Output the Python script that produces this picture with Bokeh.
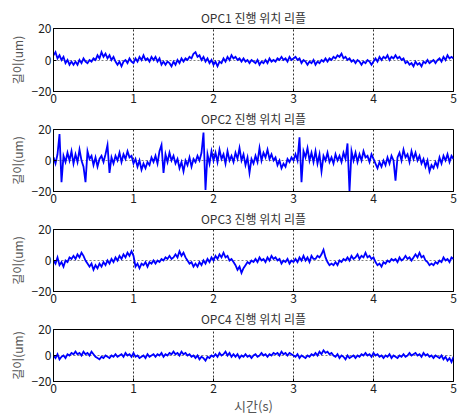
from bokeh.plotting import figure
from bokeh.layouts import column
from bokeh.models import FixedTicker, Range1d
from bokeh.embed import file_html
from bokeh.resources import INLINE

DT = 0.025
titles = ["OPC1 진행 위치 리플", "OPC2 진행 위치 리플", "OPC3 진행 위치 리플", "OPC4 진행 위치 리플"]
y_label = "길이(um)"
x_label = "시간(s)"
x_ticks = [0, 1, 2, 3, 4, 5]
y_ticks = [-20, 0, 20]

opc1 = [3,5,1,3,0,2,-2,0,-3,-1,-3,
        -1,-3,0,-2,1,-1,-2,0,-1,1,
        0,3,1,5,2,4,1,3,0,2,
        -1,-3,-1,-4,-1,0,-2,1,-1,-2,
        1,-1,2,0,3,0,1,-1,2,0,
        2,-1,1,-3,-1,-3,-1,-2,-4,-1,
        -3,0,-2,1,-1,1,0,2,1,4,
        5,2,3,0,2,-1,1,-2,0,-3,
        -1,-4,-1,-2,1,-1,2,0,3,1,
        2,0,1,-1,1,-1,0,-2,0,-1,
        -2,0,-3,-1,-2,0,-2,1,-1,0,
        -1,1,0,2,0,1,-1,2,0,1,
        2,0,1,-2,0,-1,-3,-1,-2,0,
        -3,-1,-2,0,-1,1,-1,1,0,2,
        1,3,2,4,1,2,0,1,-1,0,
        -2,0,-1,-3,-1,-2,0,-1,-3,-1,
        1,-1,2,0,2,1,3,0,2,1,
        3,1,2,0,1,-2,-1,-3,-2,-4,
        -1,-3,-2,-4,-1,-2,0,-2,-1,0,
        -2,0,1,-1,2,0,3,1,2,1]

opc2 = [2,-2,4,17,-14,3,-1,5,0,6,-2,
        4,-1,7,0,-4,-14,6,1,3,-3,
        2,-4,1,3,-1,4,10,-8,2,-2,
        3,0,5,-1,4,1,6,2,3,-2,
        1,-4,0,-6,-2,-5,-1,-3,2,-1,
        3,-2,6,10,-8,4,-1,5,0,3,
        -2,1,-5,-1,-7,0,-3,2,-4,1,
        -1,3,0,5,18,-19,4,-2,6,0,
        5,-1,7,1,4,-2,6,0,3,-1,
        5,1,8,0,4,-3,2,-8,1,-2,
        3,-1,8,0,5,2,7,1,4,0,
        2,-3,0,-5,-2,-4,1,-1,2,0,
        4,0,15,-14,6,2,8,0,5,-1,
        6,-2,4,-7,3,0,5,-1,2,-2,
        4,0,3,-1,5,1,11,-20,6,0,
        5,-1,4,0,6,2,3,-1,4,1,
        -2,-5,-1,-4,0,-3,2,-2,3,0,
        -13,2,5,0,7,2,4,-1,6,1,
        5,0,3,-2,1,-4,0,-7,-3,-5,
        -1,-4,2,-2,3,0,4,-1,3,1]

opc3 = [0,-2,2,-3,-1,-4,0,-1,2,1,3,
        1,4,2,5,3,0,-2,-4,-2,-6,
        -3,-5,-2,-4,-1,-3,0,-2,1,-1,
        2,0,3,1,4,2,5,3,6,3,
        -4,-2,-5,-2,-3,-1,-4,-1,-2,0,
        -2,0,-1,1,0,2,1,3,1,2,
        4,2,6,3,5,2,0,-2,-1,-4,
        -2,-4,-1,-3,0,-2,1,-1,2,0,
        3,1,4,2,5,2,3,0,1,-1,
        -3,-6,-4,-8,-5,-3,-1,-2,0,-1,
        1,-1,2,0,1,-1,2,0,3,1,
        2,0,1,-2,0,-1,1,-2,0,-1,
        1,-1,2,0,3,0,2,-1,3,1,
        1,3,2,4,7,2,-1,-3,-2,-3,
        -1,-3,0,-1,1,0,2,0,3,1,
        2,4,1,3,2,5,2,3,1,2,
        -1,-3,-2,-4,-1,-2,0,-1,1,0,
        1,-1,2,0,1,3,1,2,0,2,
        4,2,5,2,3,0,-1,-3,-2,-3,
        -1,-2,0,-1,2,0,1,-1,2,1]

opc4 = [0,-2,1,-3,-1,0,-2,1,0,2,1,
        3,1,2,0,3,1,2,0,3,1,
        -1,-2,-3,-1,-2,0,-1,-2,0,-1,
        1,-1,0,1,-1,2,0,1,-1,2,
        -1,0,-2,-1,0,-2,1,-1,0,1,
        -1,1,0,2,-1,1,0,2,1,3,
        1,2,0,3,1,2,0,1,-1,0,
        -2,0,-3,-1,-2,-4,-1,-2,0,-1,
        1,-1,2,0,1,3,0,2,-1,1,
        -1,1,-2,0,-1,1,-1,0,-2,0,
        1,-1,0,2,0,1,-1,1,0,2,
        1,2,0,3,1,2,0,2,1,0,
        -1,1,-2,0,-1,-2,0,-1,1,0,
        2,0,3,1,4,2,3,1,2,0,
        -1,1,-2,0,-1,-3,0,-2,-1,0,
        -2,0,-1,1,0,2,0,1,-1,2,
        0,1,-1,0,-2,0,-1,1,-2,0,
        -1,-2,0,-1,1,-1,0,2,0,1,
        2,0,1,-1,2,0,1,-1,0,-2,
        0,-1,-2,0,-3,-1,-4,-2,-5,-1]

series = [opc1, opc2, opc3, opc4]
FONT = "Noto Sans CJK KR"

figs = []
for k, (ttl, ys) in enumerate(zip(titles, series)):
    last = k == 3
    first = k == 0
    h = 105 if first else (112 if last else 100)
    p = figure(width=457, height=h, output_backend="svg", toolbar_location=None,
               x_range=Range1d(0, 5), y_range=Range1d(-20, 20),
               min_border_left=53, min_border_right=4,
               min_border_top=28 if first else 23,
               min_border_bottom=26 if last else 14,
               title=ttl)
    p.title.align = "center"
    p.title.text_font = FONT
    p.title.text_font_size = "12px"
    p.title.text_font_style = "normal"
    p.title.text_color = "#333333"
    p.title.standoff = 5
    xs = [i * DT for i in range(len(ys))]
    p.line(xs, ys, line_color="#0000ff", line_width=1.8, line_join="miter")
    p.outline_line_color = "black"
    p.outline_line_alpha = 1
    for ax in (p.xaxis[0], p.yaxis[0]):
        ax.axis_line_color = "black"
        ax.major_tick_in = 3
        ax.major_tick_out = 0
        ax.minor_tick_line_color = None
        ax.major_label_text_font = FONT
        ax.major_label_text_font_size = "12px"
        ax.major_label_text_color = "#222222"
        ax.major_label_standoff = 2
    p.xaxis.ticker = FixedTicker(ticks=x_ticks)
    p.yaxis.ticker = FixedTicker(ticks=y_ticks)
    p.yaxis.axis_label = y_label
    p.yaxis.axis_label_text_font = FONT
    p.yaxis.axis_label_text_font_size = "12px"
    p.yaxis.axis_label_text_font_style = "normal"
    p.yaxis.axis_label_text_color = "#555555"
    p.yaxis.axis_label_standoff = 3
    if last:
        p.xaxis.axis_label = x_label
        p.xaxis.axis_label_text_font = FONT
        p.xaxis.axis_label_text_font_size = "13px"
        p.xaxis.axis_label_text_font_style = "normal"
        p.xaxis.axis_label_text_color = "#555555"
        p.xaxis.axis_label_standoff = 0
    p.xgrid.grid_line_color = "black"
    p.xgrid.grid_line_dash = "2 2"
    p.xgrid.grid_line_alpha = 0.8
    p.ygrid.grid_line_color = "black"
    p.ygrid.grid_line_dash = "2 2"
    p.ygrid.grid_line_alpha = 0.5
    p.background_fill_color = "white"
    p.border_fill_color = "white"
    figs.append(p)

layout = column(*figs, spacing=0)
open("out.html", "w").write(file_html(layout, INLINE))
